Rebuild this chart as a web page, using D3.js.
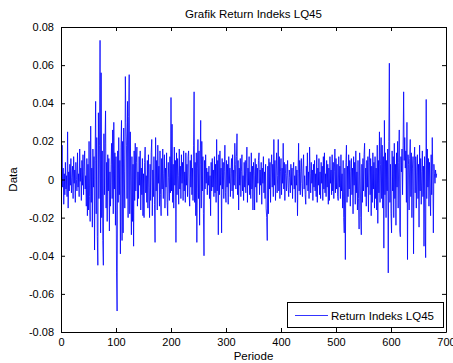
<!DOCTYPE html>
<html>
<head>
<meta charset="utf-8">
<script src="https://cdn.jsdelivr.net/npm/d3@7"></script>
<style>
html,body{margin:0;padding:0;background:#fff;}
svg{display:block;}
text{font-family:"Liberation Sans",Arial,Helvetica,sans-serif;fill:#000;}
</style>
</head>
<body>
<svg id="chart" width="453" height="363"></svg>
<script>
const chartTitle = "Grafik Return Indeks LQ45";
const xLabel = "Periode";
const yLabel = "Data";
const seriesName = "Return Indeks LQ45";
const xTicks = [0, 100, 200, 300, 400, 500, 600, 700];
const yTicks = [-0.08, -0.06, -0.04, -0.02, 0, 0.02, 0.04, 0.06, 0.08];
const yTickLabels = ["-0.08", "-0.06", "-0.04", "-0.02", "0", "0.02", "0.04", "0.06", "0.08"];
const returnValues = [
0.005,0.018,-0.004,0.006,-0.013,0.003,-0.008,0.009,-0.005,0.002,-0.009,0.025,-0.015,0.004,-0.006,0.008,-0.003,0.011,-0.007,0.001,
0.007,-0.010,0.012,-0.002,0.005,-0.012,0.009,0.000,-0.006,0.014,-0.004,0.003,-0.009,0.016,-0.001,0.006,-0.011,0.010,-0.003,0.013,
-0.008,0.004,0.015,-0.005,0.002,-0.014,0.011,-0.019,0.008,-0.016,0.020,-0.009,-0.022,0.028,-0.012,0.006,-0.025,0.016,-0.004,0.012,
-0.037,0.010,0.041,-0.018,0.022,-0.030,-0.045,0.035,-0.010,0.018,0.073,-0.028,0.056,-0.020,0.015,-0.032,-0.045,0.024,-0.008,0.019,
0.036,-0.015,0.009,-0.022,0.013,-0.006,0.011,-0.027,0.004,-0.014,0.008,0.019,-0.010,0.026,-0.018,0.030,-0.005,0.014,-0.024,0.012,
-0.049,-0.069,0.015,-0.012,0.022,-0.008,0.010,-0.039,0.017,0.031,-0.032,0.020,-0.028,0.027,0.004,-0.015,0.054,0.030,0.018,-0.010,
0.041,-0.020,0.033,0.055,-0.018,0.025,-0.005,-0.029,0.012,-0.022,0.008,-0.035,0.015,-0.011,0.019,-0.006,0.009,0.017,-0.014,0.004,
-0.010,0.012,-0.003,0.015,-0.016,0.006,-0.008,0.011,-0.019,0.003,-0.020,0.009,0.017,-0.007,0.002,-0.012,0.010,-0.015,0.013,-0.004,
-0.020,0.008,-0.011,0.014,0.021,-0.019,0.005,-0.009,0.012,-0.013,-0.033,0.022,-0.006,0.010,-0.016,0.018,-0.002,0.007,-0.014,0.015,
-0.008,-0.019,0.011,-0.005,0.016,-0.010,0.003,0.013,-0.015,0.006,-0.004,0.014,-0.012,-0.019,0.009,0.001,-0.011,0.012,-0.007,0.043,
-0.006,0.029,-0.012,0.008,-0.015,0.017,-0.003,0.010,-0.033,0.014,-0.008,0.011,0.002,-0.013,0.016,-0.005,0.007,-0.010,0.013,-0.002,
0.009,-0.011,0.015,-0.006,0.004,-0.012,0.014,-0.003,0.008,-0.009,0.012,0.015,-0.007,-0.014,0.010,-0.004,0.013,-0.008,0.006,-0.011,
0.018,0.046,-0.012,0.009,-0.019,0.014,-0.033,0.006,0.021,-0.010,0.015,-0.024,0.008,0.031,-0.015,0.020,-0.006,0.012,-0.018,-0.040,
0.010,-0.005,0.013,-0.002,0.006,-0.008,0.004,-0.003,0.007,-0.010,0.002,-0.019,0.009,-0.006,0.011,-0.004,0.005,-0.009,0.012,-0.007,
0.008,-0.012,0.021,-0.006,0.010,-0.029,0.013,-0.008,0.015,-0.003,0.006,-0.028,0.011,-0.005,0.009,-0.010,0.004,0.018,-0.007,-0.012,
0.010,-0.004,0.008,-0.013,0.012,-0.002,0.006,-0.009,0.003,0.011,-0.006,0.013,-0.010,0.005,-0.003,0.019,0.008,-0.005,0.012,0.024,
-0.008,0.010,-0.016,0.006,-0.003,0.011,-0.009,0.004,0.013,-0.006,0.002,-0.011,0.009,-0.004,0.010,-0.007,0.005,0.017,-0.012,0.006,
-0.003,0.012,-0.008,0.004,-0.010,0.014,-0.005,0.007,-0.016,0.009,0.002,-0.016,0.011,-0.004,0.008,-0.012,0.006,-0.002,0.010,0.014,
-0.008,0.005,-0.003,0.009,-0.013,0.006,-0.002,0.012,-0.007,0.004,-0.010,0.008,-0.015,-0.020,-0.032,0.007,-0.018,0.011,-0.005,0.009,
-0.012,0.006,0.013,-0.004,0.008,-0.009,0.021,-0.003,0.010,-0.011,0.005,0.014,-0.007,0.002,0.021,-0.006,0.012,-0.010,0.004,0.011,
-0.008,0.006,-0.002,0.019,-0.005,0.009,-0.011,0.003,0.008,-0.006,0.002,0.010,-0.004,-0.009,0.005,0.001,-0.007,0.008,-0.003,0.006,
-0.010,0.004,0.009,-0.005,0.002,-0.012,0.007,-0.003,0.005,-0.019,0.003,0.019,-0.006,0.010,-0.008,0.004,0.011,-0.002,-0.009,0.006,
0.013,-0.005,0.002,-0.008,-0.013,0.007,-0.003,0.014,-0.006,0.004,-0.010,0.017,0.003,-0.007,0.009,-0.002,0.005,-0.011,0.008,-0.004,
0.010,-0.006,0.003,-0.009,0.013,-0.012,0.006,-0.003,0.011,-0.008,0.004,-0.010,0.009,-0.002,0.007,-0.011,0.012,-0.005,0.014,-0.007,
0.003,-0.009,0.010,-0.004,0.008,-0.013,0.006,-0.011,0.012,-0.002,0.005,-0.008,0.013,-0.006,0.009,-0.010,0.004,0.016,-0.007,0.011,
-0.005,0.008,-0.009,-0.011,0.012,-0.004,0.007,-0.010,0.013,-0.006,0.003,-0.015,0.010,-0.020,-0.028,0.006,-0.042,0.009,0.018,-0.012,
0.007,-0.009,0.013,-0.005,0.010,-0.014,0.004,0.011,-0.008,0.006,-0.018,0.012,-0.003,0.009,-0.013,0.015,-0.007,0.004,-0.016,0.010,
-0.010,-0.026,0.014,0.005,-0.020,-0.029,0.008,-0.012,0.011,-0.006,0.013,0.019,-0.009,0.006,-0.014,0.010,-0.004,0.012,-0.017,0.009,
0.016,-0.008,0.011,-0.019,0.007,-0.012,0.014,-0.005,0.009,-0.015,0.012,-0.010,0.006,-0.016,0.018,-0.023,0.010,-0.007,0.025,-0.012,
0.008,0.022,-0.010,0.018,-0.015,0.012,-0.036,0.031,-0.008,0.014,-0.020,0.010,-0.006,0.016,-0.049,0.020,0.061,-0.012,0.008,-0.018,
-0.028,0.015,-0.006,0.012,-0.020,0.019,-0.010,0.008,-0.024,0.014,-0.004,0.020,-0.015,0.009,0.026,-0.027,-0.030,0.012,0.004,0.016,
-0.008,0.018,0.046,0.010,0.022,0.006,0.015,-0.012,0.030,-0.042,0.013,0.008,-0.016,0.011,0.021,-0.009,0.014,-0.020,0.006,0.012,
-0.039,0.010,0.017,-0.007,0.012,-0.015,0.005,0.013,-0.010,0.008,-0.025,0.018,-0.006,0.011,-0.013,0.004,0.015,-0.009,0.007,-0.035,
0.012,-0.018,-0.041,0.042,-0.010,0.016,-0.004,0.011,-0.014,0.009,-0.006,-0.019,0.013,-0.008,0.022,0.004,-0.028,0.008,0.003,-0.002,
0.005,0.001,0.003
];

const W = 453, H = 363;
const margin = {left: 61, right: 7, top: 27, bottom: 31};
const x0 = margin.left, x1 = W - margin.right, y0 = margin.top, y1 = H - margin.bottom;

const svg = d3.select("#chart");
const x = d3.scaleLinear().domain([0, 700]).range([x0, x1]);
const y = d3.scaleLinear().domain([-0.08, 0.08]).range([y1, y0]);

svg.append("defs").append("clipPath").attr("id", "clip")
  .append("rect").attr("x", x0).attr("y", y0).attr("width", x1 - x0).attr("height", y1 - y0);

const data = returnValues.map((v, i) => ({p: i + 1, v}));
const line = d3.line().x(d => x(d.p)).y(d => y(d.v));

svg.append("path").datum(data)
  .attr("clip-path", "url(#clip)")
  .attr("fill", "none")
  .attr("stroke", "#0000ff")
  .attr("stroke-width", 0.8)
  .attr("stroke-linejoin", "miter")
  .attr("d", line);

// Axes (MATLAB style: inward ticks, box)
const fmtY = (d, i) => yTickLabels[i];
const gB = svg.append("g").attr("transform", `translate(0,${y1})`)
  .call(d3.axisBottom(x).tickValues(xTicks).tickSizeInner(-4).tickSizeOuter(0).tickPadding(6).tickFormat(d3.format("d")));
const gT = svg.append("g").attr("transform", `translate(0,${y0})`)
  .call(d3.axisTop(x).tickValues(xTicks).tickSizeInner(-4).tickSizeOuter(0).tickFormat(""));
const gL = svg.append("g").attr("transform", `translate(${x0},0)`)
  .call(d3.axisLeft(y).tickValues(yTicks).tickSizeInner(-4).tickSizeOuter(0).tickPadding(7).tickFormat(fmtY));
const gR = svg.append("g").attr("transform", `translate(${x1},0)`)
  .call(d3.axisRight(y).tickValues(yTicks).tickSizeInner(-4).tickSizeOuter(0).tickFormat(""));

[gB, gT, gL, gR].forEach(g => {
  g.selectAll(".domain").attr("stroke", "#000").attr("stroke-width", 1);
  g.selectAll(".tick line").attr("stroke", "#000").attr("stroke-width", 1);
  g.selectAll(".tick text").attr("font-size", 11).attr("font-family", "Liberation Sans, Arial, sans-serif").attr("fill", "#000");
});
gB.selectAll(".tick text").attr("dy", "0.75em");

// Title & labels
svg.append("text").attr("x", (x0 + x1) / 2).attr("y", 18).attr("text-anchor", "middle")
  .attr("font-size", 11.5).text(chartTitle);
svg.append("text").attr("x", (x0 + x1) / 2).attr("y", 360).attr("text-anchor", "middle")
  .attr("font-size", 11.5).text(xLabel);
svg.append("text").attr("transform", `translate(17,${(y0 + y1) / 2}) rotate(-90)`).attr("text-anchor", "middle")
  .attr("font-size", 11.5).text(yLabel);

// Legend
const lg = svg.append("g");
lg.append("rect").attr("x", 287.5).attr("y", 302.5).attr("width", 156).attr("height", 25)
  .attr("fill", "#fff").attr("stroke", "#000").attr("stroke-width", 1);
lg.append("line").attr("x1", 295).attr("x2", 328).attr("y1", 315.5).attr("y2", 315.5)
  .attr("stroke", "#0000ff").attr("stroke-width", 0.8);
lg.append("text").attr("x", 331).attr("y", 319.5).attr("font-size", 11.5).text(seriesName);
</script>
</body>
</html>
